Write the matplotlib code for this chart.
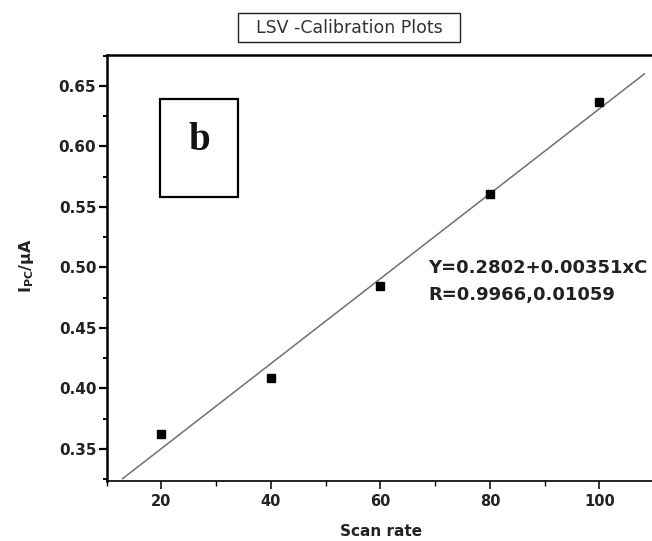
import numpy as np
import matplotlib
matplotlib.use('Agg')
import matplotlib.pyplot as plt
from matplotlib.patches import Rectangle
from matplotlib.ticker import MultipleLocator

# scan rate vs peak current
scan_rate = [20, 40, 60, 80, 100]
current = [0.362, 0.409, 0.485, 0.561, 0.637]

# linear fit reported on the chart
intercept = 0.2802
slope = 0.00351
fit_range = [12.9, 108.2]

W, H = 652, 541
fig = plt.figure(figsize=(W / 100, H / 100), dpi=100)

# axes: left spine at x=107 px, top at y=55, bottom at y=481; right edge runs off the figure
ax = fig.add_axes([106.7 / W, (H - 480.7) / H, (W - 106.7) / W, (480.7 - 55) / H])

fx = np.array(fit_range)
ax.plot(fx, intercept + slope * fx, color='#707070', linewidth=1.1, zorder=2)
ax.plot(scan_rate, current, 's', color='black', markersize=6.2, zorder=3)

ax.set_xlim(10, 109.6)
ax.set_ylim(0.3238, 0.6756)

ax.xaxis.set_major_locator(MultipleLocator(20))
ax.xaxis.set_minor_locator(MultipleLocator(10))
ax.yaxis.set_major_locator(MultipleLocator(0.05))
ax.yaxis.set_minor_locator(MultipleLocator(0.025))
ax.yaxis.set_major_formatter(plt.FuncFormatter(lambda v, p: f'{v:.2f}'))

ax.spines['right'].set_visible(False)
ax.spines['left'].set_linewidth(1.8)
ax.spines['top'].set_linewidth(1.8)
ax.spines['bottom'].set_linewidth(1.2)

ax.tick_params(axis='both', which='both', direction='out', top=False, right=False)
ax.tick_params(axis='y', which='major', length=6, width=1.6, pad=1.5, labelsize=11)
ax.tick_params(axis='y', which='minor', length=3, width=1.4)
ax.tick_params(axis='x', which='major', length=5.5, width=1.1, pad=4, labelsize=10.5)
ax.tick_params(axis='x', which='minor', length=3.5, width=1.0)
for lab in ax.get_xticklabels() + ax.get_yticklabels():
    lab.set_fontweight('bold')
    lab.set_color('#222222')

# axis titles
fig.text(381 / W, 1 - 531 / H, 'Scan rate', ha='center', va='center',
         fontsize=11, fontweight='bold', color='#222222')
fig.text(26 / W, 1 - 266 / H, r'$\mathbf{I_{PC}}$/µA', ha='center', va='center',
         rotation=90, fontsize=11.5, fontweight='bold', color='#222222')

# boxed title
fig.patches.append(Rectangle((238 / W, 1 - 42 / H), (460 - 238) / W, (42 - 13) / H,
                             transform=fig.transFigure, fill=False,
                             edgecolor='#222222', linewidth=1.0))
fig.text(349 / W, 1 - 28 / H, 'LSV -Calibration Plots', ha='center', va='center',
         fontsize=12.5, color='#333333')

# panel letter
fig.patches.append(Rectangle((160 / W, 1 - 197 / H), (238 - 160) / W, (197 - 99) / H,
                             transform=fig.transFigure, fill=False,
                             edgecolor='black', linewidth=1.6))
fig.text(199 / W, 1 - 141 / H, 'b', ha='center', va='center', fontsize=28,
         fontweight='bold', family='Liberation Serif', color='#111111')

# fit equation
fig.text(428 / W, 1 - 268 / H, f'Y={intercept:.4f}+{slope:.5f}xC', ha='left', va='center',
         fontsize=13, fontweight='bold', color='#222222')
fig.text(428 / W, 1 - 295 / H, 'R=0.9966,0.01059', ha='left', va='center',
         fontsize=13, fontweight='bold', color='#222222')

fig.savefig('out.png', dpi=100)
